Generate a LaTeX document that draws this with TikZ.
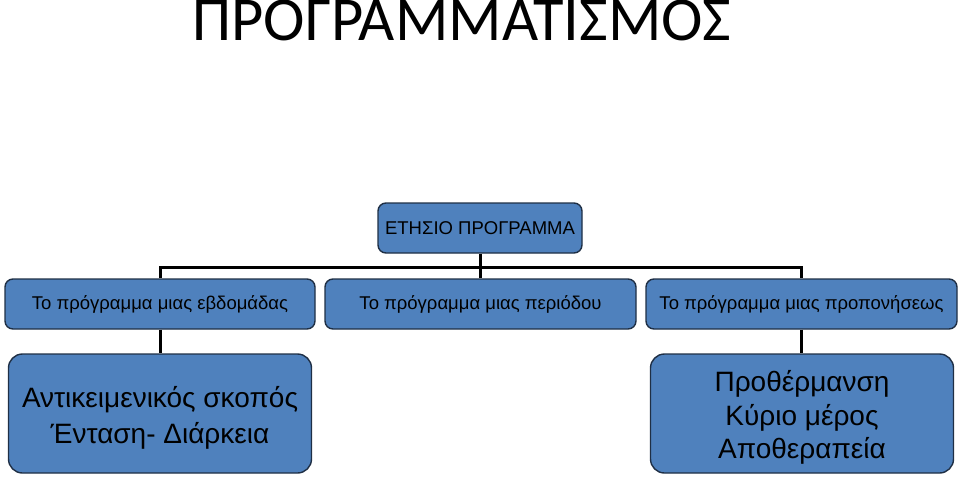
\documentclass[tikz,border=0pt]{standalone}
\usepackage{fontspec}
\setmainfont{Liberation Sans}
\newfontfamily\titlefont{Carlito}
\usetikzlibrary{positioning}
\definecolor{boxblue}{HTML}{4F81BD}
\definecolor{boxline}{HTML}{1F2F45}
\tikzset{
  plan/.style = {align=center, inner sep=0pt, text centered,
    fill=boxblue, draw=boxline, line width=1.4pt, rounded corners=8pt},% kouti
  plan_s/.style = {plan, minimum height=50pt, font=\fontsize{18.5}{22}\selectfont},% mikro kouti
  plan_b/.style = {plan, minimum width=303pt, minimum height=119pt,
    rounded corners=14pt},% megalo kouti
  plan_t/.style = {align=center, inner sep=0pt, yshift=-4pt}% keimeno megalou koutiou
}

\begin{document}
\begin{tikzpicture}[x=1pt,y=-1pt]
\useasboundingbox (0,0) rectangle (960,477);
\node[anchor=base, font=\titlefont\fontsize{62.5}{62.5}\selectfont] (title) at (462,40) {ΠΡΟΓΡΑΜΜΑΤΙΣΜΟΣ};

\node[plan_s, minimum width=204pt] (year) at (480,228) {ΕΤΗΣΙΟ ΠΡΟΓΡΑΜΜΑ};
\node[plan_s, minimum width=310pt] (week) at (160,304) {Το πρόγραμμα μιας εβδομάδας};
\node[plan_s, minimum width=311pt] (period) at (480.5,304) {Το πρόγραμμα μιας περιόδου};
\node[plan_s, minimum width=311pt] (train) at (801.5,304) {Το πρόγραμμα μιας προπονήσεως};
\node[plan_b, label={[plan_t, font=\fontsize{28}{36}\selectfont]center:Αντικειμενικός σκοπός\\Ένταση- Διάρκεια}] (goal) at (160,413.5) {};
\node[plan_b, label={[plan_t, font=\fontsize{28}{33.5}\selectfont]center:Προθέρμανση\\Κύριο μέρος\\Αποθεραπεία}] (parts) at (802,413.5) {};

\coordinate (bar) at (480.5,267);

\draw[line width=3pt] (year.south -| bar) -- (bar);
\draw[line width=3pt] (week.north) |- (bar) -| (train.north);
\draw[line width=3pt] (period.north -| bar) -- (bar);
\draw[line width=3pt] (week.south) -- (week.south |- goal.north);
\draw[line width=3pt] (train.south) -- (train.south |- parts.north);
\end{tikzpicture}
\end{document}
